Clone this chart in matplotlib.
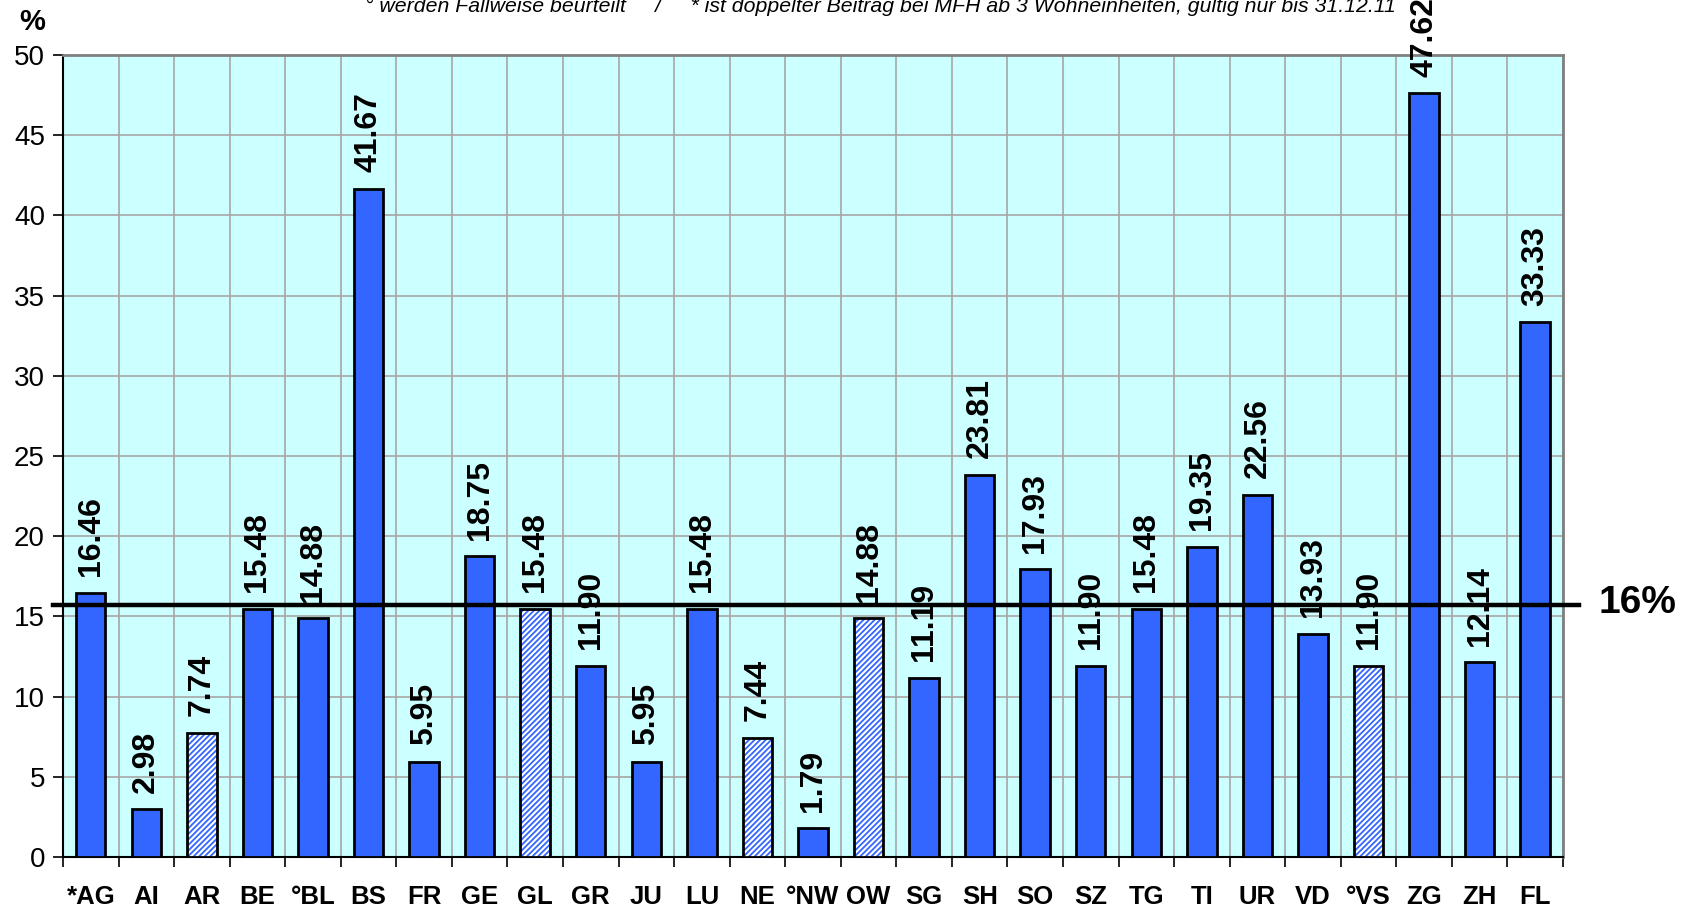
import matplotlib
matplotlib.use("Agg")
import matplotlib.pyplot as plt
import numpy as np

plt.rcParams['font.family'] = ['Liberation Sans', 'DejaVu Sans']
plt.rcParams['hatch.linewidth'] = 1.3

cantons = ['*AG', 'AI', 'AR', 'BE', '°BL', 'BS', 'FR', 'GE', 'GL', 'GR', 'JU', 'LU', 'NE', '°NW',
           'OW', 'SG', 'SH', 'SO', 'SZ', 'TG', 'TI', 'UR', 'VD', '°VS', 'ZG', 'ZH', 'FL']
values = [16.46, 2.98, 7.74, 15.48, 14.88, 41.67, 5.95, 18.75, 15.48, 11.90, 5.95, 15.48, 7.44, 1.79,
          14.88, 11.19, 23.81, 17.93, 11.90, 15.48, 19.35, 22.56, 13.93, 11.90, 47.62, 12.14, 33.33]
hatched = ['AR', 'GL', 'NE', 'OW', '°VS']
threshold = 15.7
threshold_label = '16%'
note = '° werden Fallweise beurteilt     /     * ist doppelter Beitrag bei MFH ab 3 Wohneinheiten, gültig nur bis 31.12.11'

blue = '#3366ff'
x = np.arange(len(cantons))
is_hatched = np.array([c in hatched for c in cantons])
vals = np.array(values)

fig = plt.figure(figsize=(16.83, 9.08), dpi=100)
ax = fig.add_axes([63 / 1683, 51 / 908, 1500 / 1683, 802 / 908])
ax.set_facecolor('#ccffff')

w = 0.53
# solid bars
ax.bar(x[~is_hatched], vals[~is_hatched], width=w, color=blue, edgecolor='black', linewidth=2, zorder=3)
# hatched bars: hatch in blue, outline in black
ax.bar(x[is_hatched], vals[is_hatched], width=w, facecolor='white', edgecolor=blue, linewidth=0,
       hatch='//////', zorder=3)
ax.bar(x[is_hatched], vals[is_hatched], width=w, fill=False, edgecolor='black', linewidth=2, zorder=4)

for xi, v in zip(x, values):
    ax.annotate('%.2f' % v, (xi, v), xytext=(0, 12), textcoords='offset points',
                rotation=90, ha='center', va='bottom', fontsize=23, fontweight='bold',
                annotation_clip=False, clip_on=False, zorder=5)

ax.plot([-0.68, 26.79], [threshold, threshold], color='black', linewidth=3.2, clip_on=False, zorder=6)
ax.text(1637 / 1683, 1 - 603 / 908, threshold_label, transform=fig.transFigure, ha='center', va='center',
        fontsize=28, fontweight='bold')

ax.set_xlim(-0.5, len(cantons) - 0.5)
ax.set_ylim(0, 50)
ax.set_yticks(range(0, 51, 5))
ax.set_xticks(x)
ax.set_xticklabels(cantons, fontsize=18.5, fontweight='bold')
ax.set_xticks(np.arange(-0.5, len(cantons), 1), minor=True)
ax.tick_params(axis='x', which='major', length=0, pad=20)
ax.tick_params(axis='x', which='minor', length=7, width=1.2, direction='out')
ax.tick_params(axis='y', length=7, width=1.2, direction='out', labelsize=20, pad=6)
ax.grid(axis='y', color='#a6a6a6', linewidth=1.2, zorder=0)
ax.grid(axis='x', which='minor', color='#a6a6a6', linewidth=1.2, zorder=0)
ax.set_axisbelow(True)
for s in ['top', 'right']:
    ax.spines[s].set_color('#808080')
    ax.spines[s].set_linewidth(2)
for s in ['left', 'bottom']:
    ax.spines[s].set_linewidth(1.5)

fig.text(32 / 1683, 1 - 22 / 908, '%', ha='center', va='center', fontsize=21, fontweight='bold')
fig.text(880 / 1683, 1 - 12 / 908, note, ha='center', va='baseline', fontsize=15.3, style='italic')

fig.savefig('out.png', dpi=100)
